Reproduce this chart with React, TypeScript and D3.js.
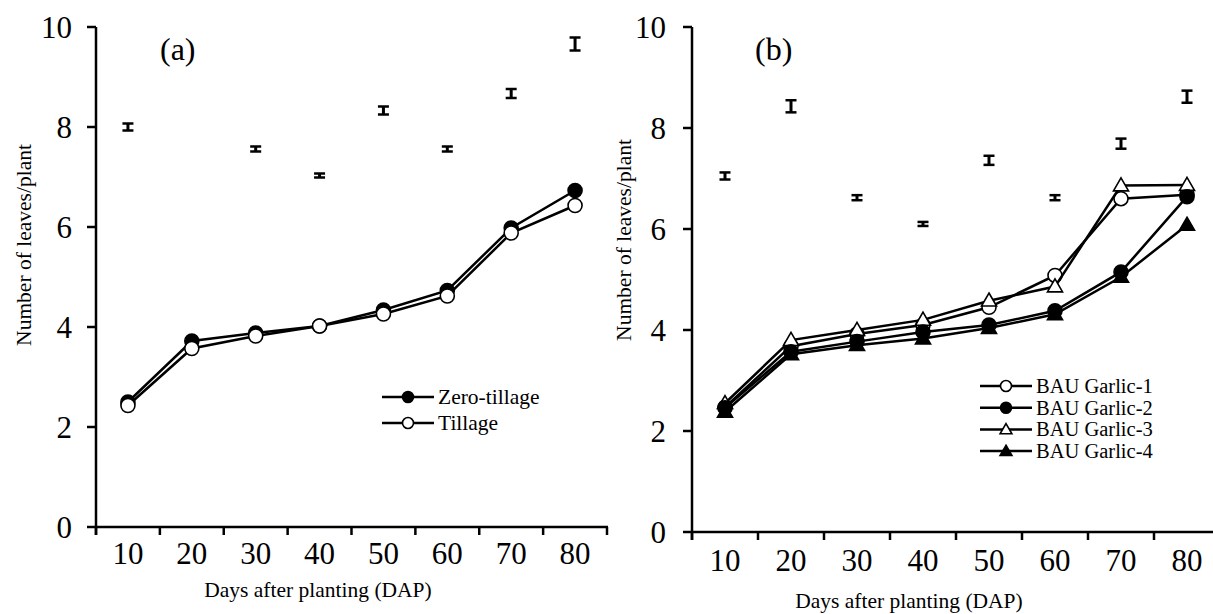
import React from "react";
import * as d3 from "d3";

const days = ["10", "20", "30", "40", "50", "60", "70", "80"];
const yTicks = [0, 2, 4, 6, 8, 10];

// Panel (a)
const zeroTillage = [2.5, 3.72, 3.88, 4.02, 4.34, 4.73, 5.98, 6.73];
const tillage = [2.43, 3.57, 3.82, 4.02, 4.26, 4.62, 5.88, 6.43];
const lsdACenter = [8.0, null, 7.56, 7.03, 8.33, 7.56, 8.67, 9.66];
const lsdAHalf = [0.07, 0, 0.05, 0.04, 0.08, 0.05, 0.09, 0.13];

// Panel (b)
const garlic1 = [2.47, 3.68, 3.92, 4.1, 4.45, 5.08, 6.6, 6.68];
const garlic2 = [2.46, 3.57, 3.77, 3.96, 4.1, 4.38, 5.15, 6.64];
const garlic3 = [2.55, 3.8, 4.0, 4.2, 4.58, 4.86, 6.86, 6.87];
const garlic4 = [2.38, 3.52, 3.7, 3.83, 4.04, 4.31, 5.05, 6.08];
const lsdBCenter = [7.05, 8.43, 6.62, 6.1, 7.36, 6.62, 7.69, 8.62];
const lsdBHalf = [0.07, 0.12, 0.05, 0.04, 0.09, 0.05, 0.1, 0.12];

const FONT = "'Liberation Serif', 'Times New Roman', serif";

type Marker = "circle" | "triangle";
type Series = { name: string; values: number[]; marker: Marker; filled: boolean };

const seriesA: Series[] = [
  { name: "Zero-tillage", values: zeroTillage, marker: "circle", filled: true },
  { name: "Tillage", values: tillage, marker: "circle", filled: false },
];
const seriesB: Series[] = [
  { name: "BAU Garlic-1", values: garlic1, marker: "circle", filled: false },
  { name: "BAU Garlic-2", values: garlic2, marker: "circle", filled: true },
  { name: "BAU Garlic-3", values: garlic3, marker: "triangle", filled: false },
  { name: "BAU Garlic-4", values: garlic4, marker: "triangle", filled: true },
];
const drawOrderB = [0, 2, 1, 3];

function MarkerShape({ x, y, marker, filled, r }: { x: number; y: number; marker: Marker; filled: boolean; r: number }) {
  const fill = filled ? "#000" : "#fff";
  if (marker === "circle") {
    return <circle cx={x} cy={y} r={r} fill={fill} stroke="#000" strokeWidth={1.6} />;
  }
  const side = r * 2.15;
  const area = (Math.sqrt(3) / 4) * side * side;
  const path = d3.symbol(d3.symbolTriangle, area)() || "";
  return <path d={path} transform={`translate(${x},${y + 1})`} fill={fill} stroke="#000" strokeWidth={1.6} />;
}

type PanelProps = {
  x0: number;
  x1: number;
  yTop: number;
  yBottom: number;
  series: Series[];
  order: number[];
  lsdCenter: (number | null)[];
  lsdHalf: number[];
  label: string;
  labelX: number;
  xTickY: number;
  xTitleX: number;
  xTitleY: number;
  yTitleX: number;
  yTitleY: number;
  yLabelOffset: number;
  legendX: number;
  legendY: number;
  legendStep: number;
  legendFont: number;
};

function Panel(p: PanelProps) {
  const x = d3.scaleBand<string>().domain(days).range([p.x0, p.x1]).padding(0);
  const y = d3.scaleLinear().domain([0, 10]).range([p.yBottom, p.yTop]);
  const cx = (d: string) => (x(d) as number) + x.bandwidth() / 2;
  const line = d3
    .line<number>()
    .x((_, i) => cx(days[i]))
    .y((v) => y(v));
  const boundaries = days.map((d) => x(d) as number).concat([p.x1]);

  return (
    <g>
      {/* axes */}
      <line x1={p.x0} x2={p.x0} y1={p.yTop} y2={p.yBottom + 8} stroke="#000" strokeWidth={2.5} />
      <line x1={p.x0 - 1} x2={p.x1 + 1} y1={p.yBottom} y2={p.yBottom} stroke="#000" strokeWidth={2.5} />
      {yTicks.map((t) => (
        <g key={"yt" + t}>
          <line x1={p.x0 - 9} x2={p.x0} y1={y(t)} y2={y(t)} stroke="#000" strokeWidth={2.5} />
          <text
            x={p.x0 - p.yLabelOffset}
            y={y(t)}
            textAnchor="end"
            dominantBaseline="central"
            fontFamily={FONT}
            fontSize={31}
          >
            {t}
          </text>
        </g>
      ))}
      {boundaries.map((b, i) => (
        <line key={"xt" + i} x1={b} x2={b} y1={p.yBottom} y2={p.yBottom + 8} stroke="#000" strokeWidth={2.5} />
      ))}
      {days.map((d) => (
        <text
          key={"xl" + d}
          x={cx(d)}
          y={p.xTickY}
          textAnchor="middle"
          dominantBaseline="central"
          fontFamily={FONT}
          fontSize={31}
        >
          {d}
        </text>
      ))}
      <text x={p.xTitleX} y={p.xTitleY} textAnchor="middle" dominantBaseline="central" fontFamily={FONT} fontSize={21.5}>
        Days after planting (DAP)
      </text>
      <text
        transform={`translate(${p.yTitleX},${p.yTitleY}) rotate(-90)`}
        textAnchor="middle"
        dominantBaseline="central"
        fontFamily={FONT}
        fontSize={21.5}
      >
        Number of leaves/plant
      </text>
      <text x={p.labelX} y={p.yTop + 22} dominantBaseline="central" fontFamily={FONT} fontSize={32}>
        {p.label}
      </text>

      {/* LSD error bars */}
      {p.lsdCenter.map((c, i) =>
        c == null ? null : (
          <g key={"e" + i}>
            <line x1={cx(days[i])} x2={cx(days[i])} y1={y(c - p.lsdHalf[i])} y2={y(c + p.lsdHalf[i])} stroke="#000" strokeWidth={3} />
            <line x1={cx(days[i]) - 5.5} x2={cx(days[i]) + 5.5} y1={y(c - p.lsdHalf[i])} y2={y(c - p.lsdHalf[i])} stroke="#000" strokeWidth={2.5} />
            <line x1={cx(days[i]) - 5.5} x2={cx(days[i]) + 5.5} y1={y(c + p.lsdHalf[i])} y2={y(c + p.lsdHalf[i])} stroke="#000" strokeWidth={2.5} />
          </g>
        )
      )}

      {/* series */}
      {p.order.map((si) => {
        const s = p.series[si];
        return (
          <g key={s.name}>
            <path d={line(s.values) || ""} fill="none" stroke="#000" strokeWidth={2.5} />
            {s.values.map((v, i) => (
              <MarkerShape key={i} x={cx(days[i])} y={y(v)} marker={s.marker} filled={s.filled} r={7} />
            ))}
          </g>
        );
      })}

      {/* legend */}
      {p.series.map((s, i) => {
        const ly = p.legendY + i * p.legendStep;
        return (
          <g key={"lg" + s.name}>
            <line x1={p.legendX} x2={p.legendX + 52} y1={ly} y2={ly} stroke="#000" strokeWidth={2.5} />
            <MarkerShape x={p.legendX + 26} y={ly} marker={s.marker} filled={s.filled} r={5.5} />
            <text x={p.legendX + 56} y={ly} dominantBaseline="central" fontFamily={FONT} fontSize={p.legendFont}>
              {s.name}
            </text>
          </g>
        );
      })}
    </g>
  );
}

export default function App() {
  return (
    <svg
      width={1213}
      height={614}
      viewBox="0 0 1213 614"
      style={{ position: "absolute", left: 0, top: 0, background: "#fff" }}
    >
      <rect x={0} y={0} width={1213} height={614} fill="#fff" />
      <Panel
        x0={96}
        x1={607}
        yTop={27}
        yBottom={527}
        series={seriesA}
        order={[0, 1]}
        lsdCenter={lsdACenter}
        lsdHalf={lsdAHalf}
        label="(a)"
        labelX={160}
        xTickY={553}
        xTitleX={318}
        xTitleY={590}
        yTitleX={24}
        yTitleY={245}
        yLabelOffset={24}
        legendX={382}
        legendY={397}
        legendStep={26}
        legendFont={21.5}
      />
      <Panel
        x0={692}
        x1={1220}
        yTop={27}
        yBottom={532}
        series={seriesB}
        order={drawOrderB}
        lsdCenter={lsdBCenter}
        lsdHalf={lsdBHalf}
        label="(b)"
        labelX={755}
        xTickY={560}
        xTitleX={909}
        xTitleY={601}
        yTitleX={624}
        yTitleY={240}
        yLabelOffset={26}
        legendX={980}
        legendY={386}
        legendStep={21.7}
        legendFont={20.5}
      />
    </svg>
  );
}
